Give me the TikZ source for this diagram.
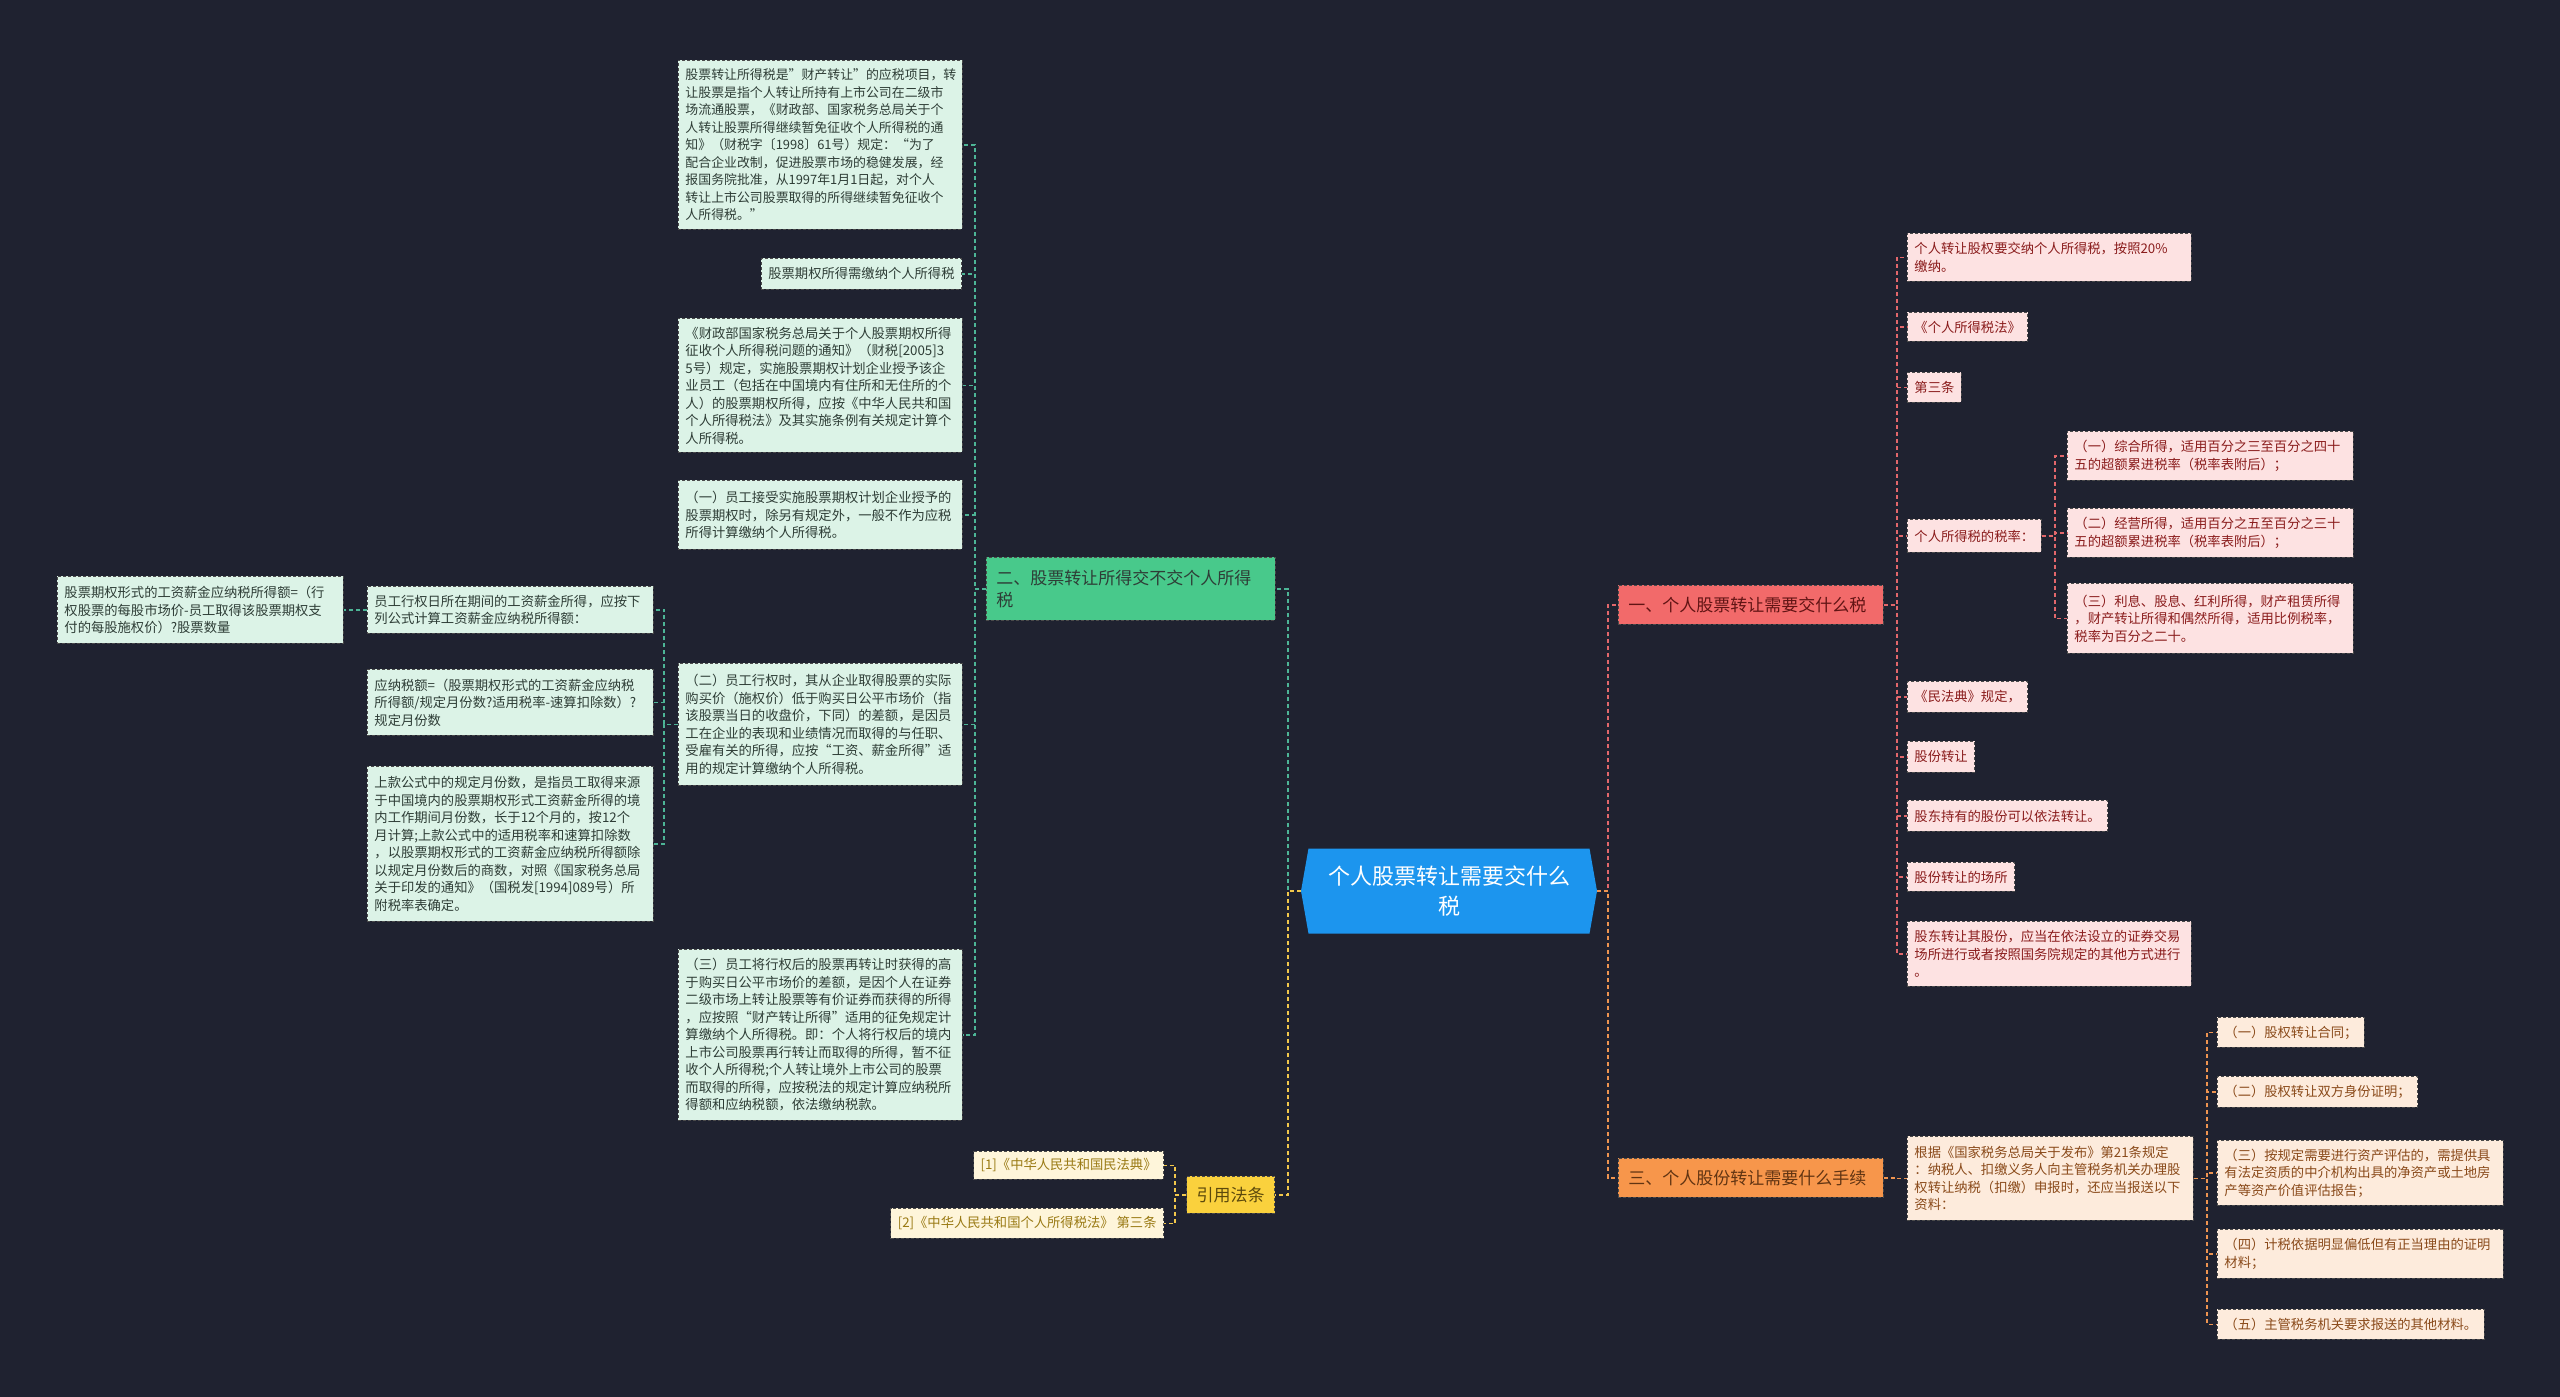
\documentclass[tikz,border=0pt]{standalone}
\usepackage{fontspec}
\setmainfont{Noto Sans CJK SC}
\usetikzlibrary{shapes.symbols}
\definecolor{cBg}{HTML}{1F2230}
\definecolor{cBlue}{HTML}{1C95EE}
\definecolor{cLine}{HTML}{4A4A4A}
\definecolor{cGfill}{HTML}{DCF3E7}
\definecolor{cGtext}{HTML}{2E3D36}
\definecolor{cGbr}{HTML}{48C98B}
\definecolor{cGln}{HTML}{4DB596}
\definecolor{cRfill}{HTML}{FDE2E2}
\definecolor{cRtext}{HTML}{8A1C1C}
\definecolor{cRbr}{HTML}{F26A6A}
\definecolor{cRln}{HTML}{E2676B}
\definecolor{cOfill}{HTML}{FDEBDC}
\definecolor{cOtext}{HTML}{8A4A1A}
\definecolor{cObr}{HTML}{F7964B}
\definecolor{cOln}{HTML}{EE9450}
\definecolor{cYfill}{HTML}{FEF5DA}
\definecolor{cYtext}{HTML}{9A7A14}
\definecolor{cYbr}{HTML}{FAD13D}
\definecolor{cYln}{HTML}{F2C84B}
\begin{document}
\begin{tikzpicture}[x=1pt,y=-1pt,
  base/.style={rectangle, draw=cLine, dash pattern=on 3pt off 2pt, line width=0.9pt,
    inner xsep=7pt, inner ysep=4pt, font=\fontsize{13.3}{17.5}\selectfont, align=left},
  gbox/.style={base, fill=cGfill, text=cGtext},
  rbox/.style={base, fill=cRfill, text=cRtext},
  obox/.style={base, fill=cOfill, text=cOtext},
  ybox/.style={base, fill=cYfill, text=cYtext},
  branch/.style={base, font=\fontsize{17}{22}\selectfont, inner xsep=10pt},
  nw/.style={anchor=north west},
  ne/.style={anchor=north east},
  conn/.style={dash pattern=on 4pt off 3pt, line width=1.8pt},
  gl/.style={conn, draw=cGln},
  rl/.style={conn, draw=cRln},
  ol/.style={conn, draw=cOln},
  yl/.style={conn, draw=cYln}
]
\fill[cBg] (0,0) rectangle (2560,1397);
\useasboundingbox (0,0) rectangle (2560,1397);

% center
\node[signal, signal to=west and east, signal pointer angle=160, fill=cBlue, text=white,
  minimum width=296pt, minimum height=85pt, font=\fontsize{22}{30}\selectfont,
  align=center, inner sep=4pt] (c) at (1449,891) {个人股票转让需要交什么\\税};

% branches
\node[branch, nw, fill=cRbr, text=cRtext!70!black, text width=245pt, minimum height=39pt] (b1) at (1618,585) {一、个人股票转让需要交什么税};
\node[branch, nw, fill=cObr, text=cOtext!70!black, text width=245pt, minimum height=39pt] (b3) at (1618,1158) {三、个人股份转让需要什么手续};
\node[branch, nw, fill=cGbr, text=cGtext, text width=269pt, minimum height=63pt] (b2) at (986,557) {二、股票转让所得交不交个人所得\\税};
\node[branch, ne, fill=cYbr, text=cYtext!60!black, minimum height=37pt] (cite) at (1275,1176) {引用法条};

% citations
\node[ybox, ne, minimum height=28pt] (c1) at (1164,1151) {[1]《中华人民共和国民法典》};
\node[ybox, ne, minimum height=30pt] (c2) at (1164,1208) {[2]《中华人民共和国个人所得税法》 第三条};

% left (green) children
\node[gbox, nw, text width=270pt, minimum height=169pt, font=\fontsize{12.9}{17.5}\selectfont] (A) at (678,60) {股票转让所得税是"财产转让"的应税项目，转\\让股票是指个人转让所持有上市公司在二级市\\场流通股票，《财政部、国家税务总局关于个\\人转让股票所得继续暂免征收个人所得税的通\\知》（财税字〔1998〕61号）规定：“为了\\配合企业改制，促进股票市场的稳健发展，经\\报国务院批准，从1997年1月1日起，对个人\\转让上市公司股票取得的所得继续暂免征收个\\人所得税。”};
\node[gbox, ne, minimum height=31pt] (B) at (962,258) {股票期权所得需缴纳个人所得税};
\node[gbox, nw, text width=270pt, minimum height=134pt] (C) at (678,318) {《财政部国家税务总局关于个人股票期权所得\\征收个人所得税问题的通知》（财税[2005]3\\5号）规定，实施股票期权计划企业授予该企\\业员工（包括在中国境内有住所和无住所的个\\人）的股票期权所得，应按《中华人民共和国\\个人所得税法》及其实施条例有关规定计算个\\人所得税。};
\node[gbox, nw, text width=270pt, minimum height=69pt] (D) at (678,480) {（一）员工接受实施股票期权计划企业授予的\\股票期权时，除另有规定外，一般不作为应税\\所得计算缴纳个人所得税。};
\node[gbox, nw, text width=270pt, minimum height=122pt] (E) at (678,663) {（二）员工行权时，其从企业取得股票的实际\\购买价（施权价）低于购买日公平市场价（指\\该股票当日的收盘价，下同）的差额，是因员\\工在企业的表现和业绩情况而取得的与任职、\\受雇有关的所得，应按“工资、薪金所得”适\\用的规定计算缴纳个人所得税。};
\node[gbox, nw, text width=270pt, minimum height=171pt] (F) at (678,949) {（三）员工将行权后的股票再转让时获得的高\\于购买日公平市场价的差额，是因个人在证券\\二级市场上转让股票等有价证券而获得的所得\\，应按照“财产转让所得”适用的征免规定计\\算缴纳个人所得税。即：个人将行权后的境内\\上市公司股票再行转让而取得的所得，暂不征\\收个人所得税;个人转让境外上市公司的股票\\而取得的所得，应按税法的规定计算应纳税所\\得额和应纳税额，依法缴纳税款。};
\node[gbox, nw, text width=272pt, minimum height=47pt] (E1) at (367,586) {员工行权日所在期间的工资薪金所得，应按下\\列公式计算工资薪金应纳税所得额：};
\node[gbox, nw, text width=272pt, minimum height=67pt] (E1a) at (57,576) {股票期权形式的工资薪金应纳税所得额=（行\\权股票的每股市场价-员工取得该股票期权支\\付的每股施权价）?股票数量};
\node[gbox, nw, text width=272pt, minimum height=66pt] (E2) at (367,669) {应纳税额=（股票期权形式的工资薪金应纳税\\所得额/规定月份数?适用税率-速算扣除数）?\\规定月份数};
\node[gbox, nw, text width=272pt, minimum height=155pt] (E3) at (367,766) {上款公式中的规定月份数，是指员工取得来源\\于中国境内的股票期权形式工资薪金所得的境\\内工作期间月份数，长于12个月的，按12个\\月计算;上款公式中的适用税率和速算扣除数\\，以股票期权形式的工资薪金应纳税所得额除\\以规定月份数后的商数，对照《国家税务总局\\关于印发的通知》（国税发[1994]089号）所\\附税率表确定。};

% right red children
\node[rbox, nw, text width=270pt, minimum height=48pt] (R1) at (1907,233) {个人转让股权要交纳个人所得税，按照20\%\\缴纳。};
\node[rbox, nw, minimum height=29pt] (R2) at (1907,312) {《个人所得税法》};
\node[rbox, nw, minimum height=30pt] (R3) at (1907,372) {第三条};
\node[rbox, nw, minimum height=33pt] (R4) at (1907,519) {个人所得税的税率：};
\node[rbox, nw, text width=272pt, minimum height=49pt] (Ra) at (2067,431) {（一）综合所得，适用百分之三至百分之四十\\五的超额累进税率（税率表附后）；};
\node[rbox, nw, text width=272pt, minimum height=49pt] (Rb) at (2067,508) {（二）经营所得，适用百分之五至百分之三十\\五的超额累进税率（税率表附后）；};
\node[rbox, nw, text width=272pt, minimum height=70pt] (Rc) at (2067,583) {（三）利息、股息、红利所得，财产租赁所得\\，财产转让所得和偶然所得，适用比例税率，\\税率为百分之二十。};
\node[rbox, nw, minimum height=31pt] (R5) at (1907,681) {《民法典》规定，};
\node[rbox, nw, minimum height=31pt] (R6) at (1907,741) {股份转让};
\node[rbox, nw, minimum height=31pt] (R7) at (1907,800) {股东持有的股份可以依法转让。};
\node[rbox, nw, minimum height=29pt] (R8) at (1907,862) {股份转让的场所};
\node[rbox, nw, text width=270pt, minimum height=65pt] (R9) at (1907,921) {股东转让其股份，应当在依法设立的证券交易\\场所进行或者按照国务院规定的其他方式进行\\。};

% right orange children
\node[obox, nw, text width=272pt, minimum height=84pt] (O1) at (1907,1136) {根据《国家税务总局关于发布》第21条规定\\：纳税人、扣缴义务人向主管税务机关办理股\\权转让纳税（扣缴）申报时，还应当报送以下\\资料：};
\node[obox, nw, minimum height=30pt] (Oa) at (2217,1017) {（一）股权转让合同；};
\node[obox, nw, minimum height=31pt] (Ob) at (2217,1076) {（二）股权转让双方身份证明；};
\node[obox, nw, text width=272pt, minimum height=65pt] (Oc) at (2217,1140) {（三）按规定需要进行资产评估的，需提供具\\有法定资质的中介机构出具的净资产或土地房\\产等资产价值评估报告；};
\node[obox, nw, text width=272pt, minimum height=49pt] (Od) at (2217,1229) {（四）计税依据明显偏低但有正当理由的证明\\材料；};
\node[obox, nw, minimum height=30pt] (Oe) at (2217,1309) {（五）主管税务机关要求报送的其他材料。};

% connectors: center
\draw[gl] (c.west) -- ++(-13,0) |- (b2.east);
\draw[yl] (c.west) -- ++(-13,0) |- (cite.east);
\draw[rl] (c.east) -- ++(11,0) |- (b1.west);
\draw[ol] (c.east) -- ++(11,0) |- (b3.west);

% citations
\foreach \n in {c1,c2} \draw[yl] (cite.west) -- ++(-11,0) |- (\n.east);

% green subtree
\foreach \n in {A,B,C,D,E,F} \draw[gl] (b2.west) -- ++(-11,0) |- (\n.east);
\foreach \n in {E1,E2,E3} \draw[gl] (E.west) -- ++(-14,0) |- (\n.east);
\draw[gl] (E1.west) -- ++(-11,0) |- (E1a.east);

% red subtree
\foreach \n in {R1,R2,R3,R4,R5,R6,R7,R8,R9} \draw[rl] (b1.east) -- ++(13,0) |- (\n.west);
\foreach \n in {Ra,Rb,Rc} \draw[rl] (R4.east) -- ++(13,0) |- (\n.west);

% orange subtree
\draw[ol] (b3.east) -- ++(13,0) |- (O1.west);
\foreach \n in {Oa,Ob,Oc,Od,Oe} \draw[ol] (O1.east) -- ++(13,0) |- (\n.west);
\end{tikzpicture}
\end{document}
